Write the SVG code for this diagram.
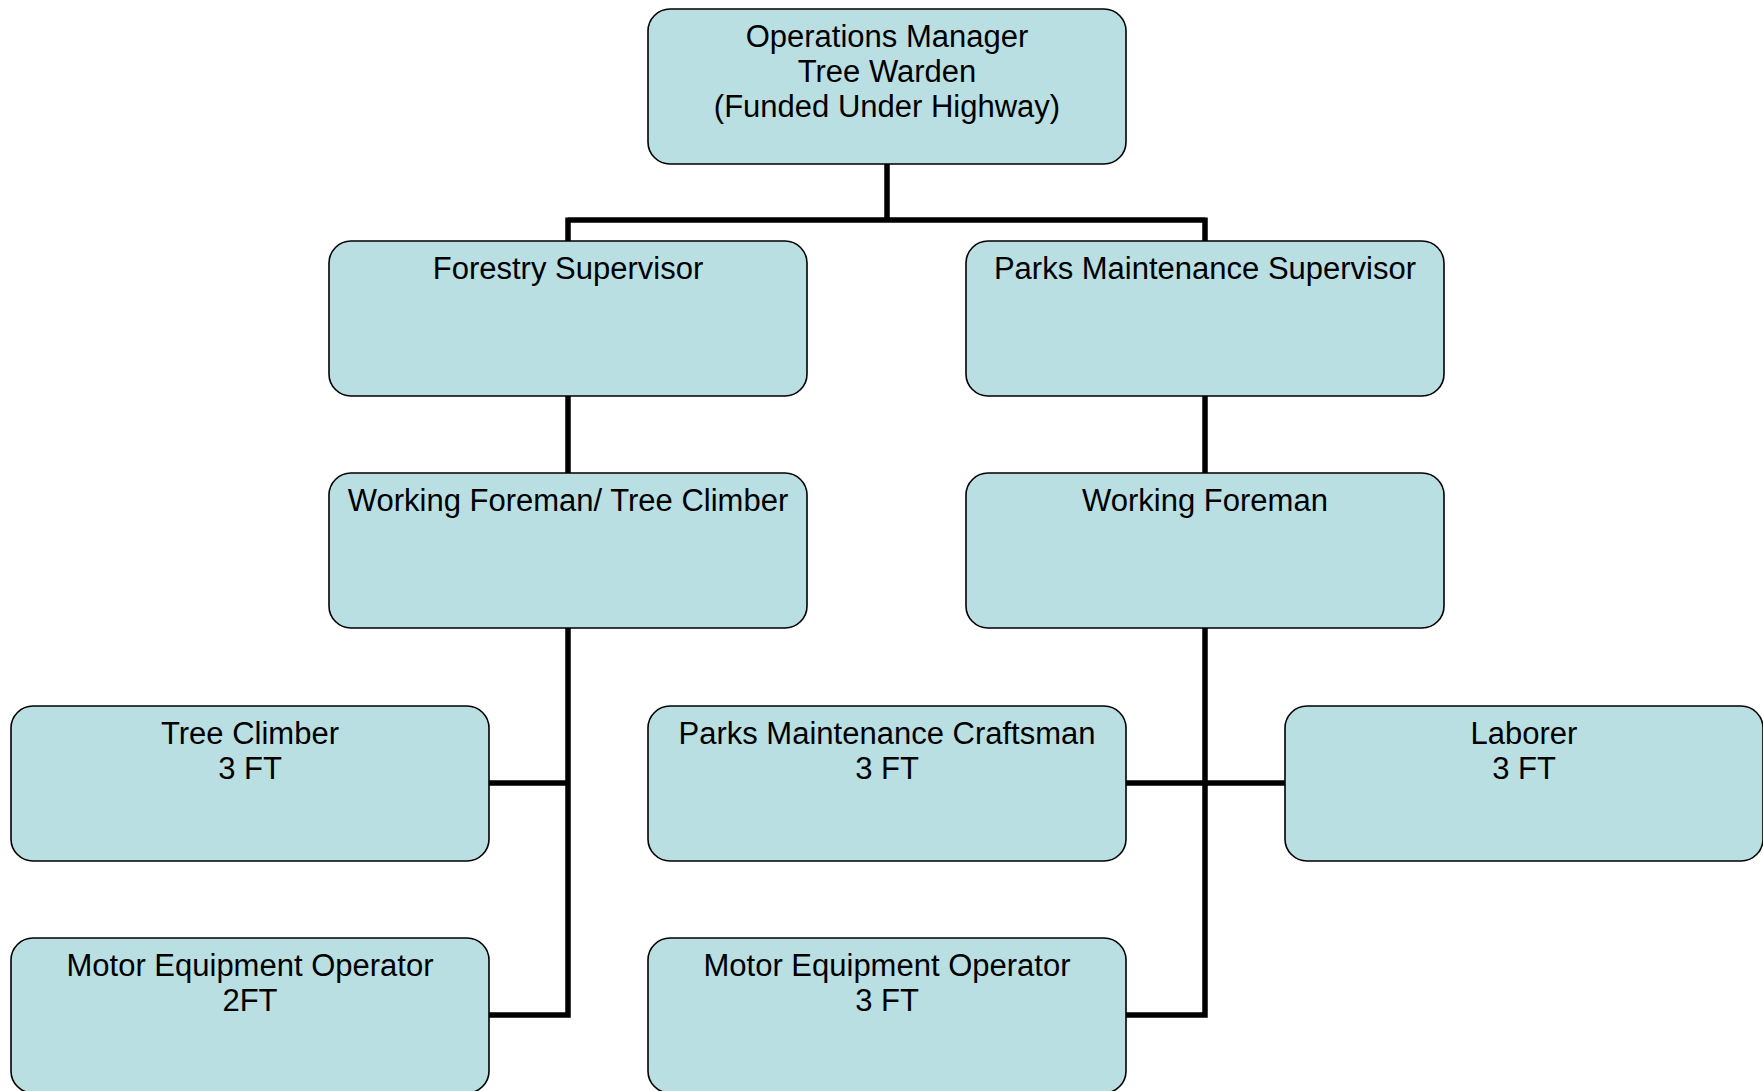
<svg xmlns="http://www.w3.org/2000/svg" width="1763" height="1091" viewBox="0 0 1763 1091">
  <style>
    .box { fill: #B9DFE3; stroke: #000; stroke-width: 1.6; }
    .lbl { font-family: "Liberation Sans", Arial, sans-serif; font-size: 31px; fill: #000; text-anchor: middle; }
    .wire { fill: none; stroke: #000; stroke-width: 5.5; stroke-linecap: butt; stroke-linejoin: miter; }
  </style>
  <defs>
    <rect id="card" x="0" y="0" width="478" height="155" rx="22" ry="22" class="box"/>
  </defs>
  <rect width="1763" height="1091" fill="#fff"/>

  <!-- reporting lines -->
  <g id="connectors">
    <path class="wire" d="M887,164 V220 M568,220 H1205 M568,217.5 V241 M1205,217.5 V241"/>
    <path class="wire" d="M568,396 V473"/>
    <path class="wire" d="M1205,396 V473"/>
    <path class="wire" d="M568,627 V1015 H488 M488,783 H568"/>
    <path class="wire" d="M1205,627 V1015 H1126 M1126,783 H1285"/>
  </g>

  <g id="ops-manager">
    <use href="#card" x="648" y="9"/>
    <text class="lbl" x="887" y="47">Operations Manager</text>
    <text class="lbl" x="887" y="82">Tree Warden</text>
    <text class="lbl" x="887" y="117">(Funded Under Highway)</text>
  </g>

  <g id="forestry-supervisor">
    <use href="#card" x="329" y="241"/>
    <text class="lbl" x="568" y="279">Forestry Supervisor</text>
  </g>

  <g id="parks-supervisor">
    <use href="#card" x="966" y="241"/>
    <text class="lbl" x="1205" y="279">Parks Maintenance Supervisor</text>
  </g>

  <g id="foreman-climber">
    <use href="#card" x="329" y="473"/>
    <text class="lbl" x="568" y="511">Working Foreman/ Tree Climber</text>
  </g>

  <g id="working-foreman">
    <use href="#card" x="966" y="473"/>
    <text class="lbl" x="1205" y="511">Working Foreman</text>
  </g>

  <g id="tree-climber">
    <use href="#card" x="11" y="706"/>
    <text class="lbl" x="250" y="744">Tree Climber</text>
    <text class="lbl" x="250" y="779">3 FT</text>
  </g>

  <g id="craftsman">
    <use href="#card" x="648" y="706"/>
    <text class="lbl" x="887" y="744">Parks Maintenance Craftsman</text>
    <text class="lbl" x="887" y="779">3 FT</text>
  </g>

  <g id="laborer">
    <use href="#card" x="1285" y="706"/>
    <text class="lbl" x="1524" y="744">Laborer</text>
    <text class="lbl" x="1524" y="779">3 FT</text>
  </g>

  <g id="meo-forestry">
    <use href="#card" x="11" y="938"/>
    <text class="lbl" x="250" y="976">Motor Equipment Operator</text>
    <text class="lbl" x="250" y="1011">2FT</text>
  </g>

  <g id="meo-parks">
    <use href="#card" x="648" y="938"/>
    <text class="lbl" x="887" y="976">Motor Equipment Operator</text>
    <text class="lbl" x="887" y="1011">3 FT</text>
  </g>
</svg>
